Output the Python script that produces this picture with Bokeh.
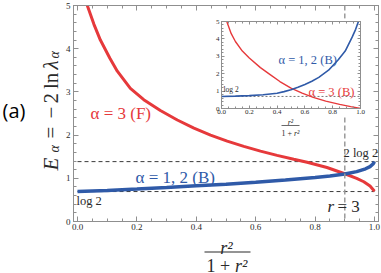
import numpy as np
from bokeh.plotting import figure
from bokeh.models import Range1d, LinearAxis, FixedTicker, Label, Span
from bokeh.embed import file_html
from bokeh.resources import INLINE

LOG2 = float(np.log(2))

# ---------------- main panel data ----------------
p_fermi3 = [0.033, 0.055, 0.077, 0.109, 0.134, 0.178, 0.223, 0.279, 0.336, 0.392,
            0.448, 0.504, 0.56, 0.616, 0.672, 0.728, 0.773, 0.84, 0.902, 0.94,
            0.964, 0.985, 1.0]
E_fermi3 = [5.0, 4.57, 4.2, 3.78, 3.48, 3.08, 2.82, 2.57, 2.35, 2.16,
            2.0, 1.86, 1.74, 1.63, 1.53, 1.44, 1.37, 1.25, 1.10, 1.00,
            0.92, 0.82, 0.70]
p_bos12 = [0.0, 0.1, 0.2, 0.3, 0.4, 0.5, 0.6, 0.7, 0.8, 0.85, 0.9, 0.94, 0.97,
           0.985, 0.995, 1.0]
E_bos12 = [0.693, 0.72, 0.75, 0.785, 0.825, 0.865, 0.91, 0.96, 1.02, 1.055, 1.10,
           1.155, 1.22, 1.27, 1.33, 1.386]
ref_levels = [LOG2, 2 * LOG2]          # log 2 and 2 log 2
ref_x0 = [0.0, 0.0]
ref_x1 = [1.0, 1.0]
r3_position = 0.9                        # r = 3  ->  r^2/(1+r^2) = 0.9

x_ticks = [0.0, 0.2, 0.4, 0.6, 0.8, 1.0]
x_tick_labels = ["0.0", "0.2", "0.4", "0.6", "0.8", "1.0"]
x_minor = [round(0.05 * i, 2) for i in range(21)]
y_ticks = [0, 1, 2, 3, 4, 5]
y_tick_labels = ["0", "1", "2", "3", "4", "5"]
y_minor = [round(0.2 * i, 1) for i in range(26)]

# ---------------- inset data ----------------
pi_bos12 = [0.0, 0.1, 0.2, 0.3, 0.4, 0.45, 0.5, 0.55, 0.6, 0.65, 0.7, 0.77, 0.84,
            0.89, 0.94, 0.965, 0.985]
Ei_bos12 = [0.693, 0.71, 0.74, 0.79, 0.88, 0.97, 1.08, 1.22, 1.38, 1.57, 1.79, 2.2,
            2.8, 3.3, 4.1, 4.55, 5.0]
pi_bos3 = [0.038, 0.07, 0.1, 0.15, 0.2, 0.28, 0.35, 0.42, 0.5, 0.58, 0.66, 0.75,
           0.85, 0.93, 1.0]
Ei_bos3 = [5.0, 4.3, 3.85, 3.3, 2.9, 2.35, 1.95, 1.55, 1.17, 0.88, 0.64, 0.42,
           0.24, 0.11, 0.0]
inset_ref = [LOG2]

RED = "#e6393b"
BLUE = "#2f5aa8"
FRAME = "#8f8f8f"
TXT = "#2a2a2a"
SERIF = "Liberation Serif"


def style_axis(ax, ticks, minor, labels, show, size, tin, tmin, standoff=3):
    ax.ticker = FixedTicker(ticks=ticks, minor_ticks=minor)
    ax.major_tick_in = tin
    ax.major_tick_out = 0
    ax.minor_tick_in = tmin
    ax.minor_tick_out = 0
    ax.axis_line_color = FRAME
    ax.major_tick_line_color = FRAME
    ax.minor_tick_line_color = FRAME
    ax.major_label_text_font = SERIF
    if show:
        ax.major_label_overrides = {t: l for t, l in zip(ticks, labels)}
        ax.major_label_text_color = TXT
        ax.major_label_text_font_size = f"{size}px"
        ax.major_label_standoff = standoff
    else:
        ax.major_label_text_color = None
        ax.major_label_text_font_size = "1px"
        ax.major_label_standoff = 0


# ================= main figure =================
p = figure(frame_width=305, frame_height=216, x_range=Range1d(-0.0135, 1.0135),
           y_range=Range1d(0, 5), output_backend="svg", toolbar_location=None,
           min_border_left=73, min_border_right=3, min_border_top=5,
           min_border_bottom=0)
p.styles = {"position": "absolute", "left": "0px", "top": "0px"}
p.xgrid.visible = False
p.ygrid.visible = False
p.outline_line_color = FRAME
p.background_fill_color = "white"
p.border_fill_color = "white"

style_axis(p.xaxis[0], x_ticks, x_minor, x_tick_labels, True, 9, 5, 3, 2)
style_axis(p.yaxis[0], y_ticks, y_minor, y_tick_labels, True, 9, 5, 3, 3)
top_ax = LinearAxis()
right_ax = LinearAxis()
style_axis(top_ax, x_ticks, x_minor, x_tick_labels, False, 9, 5, 3)
style_axis(right_ax, y_ticks, y_minor, y_tick_labels, False, 9, 5, 3)
p.add_layout(top_ax, "above")
p.add_layout(right_ax, "right")

p.segment(x0=ref_x0, y0=ref_levels, x1=ref_x1, y1=ref_levels,
          line_color="#3a3a3a", line_width=1, line_dash="4 3")
p.add_layout(Span(location=r3_position, dimension="height", line_color="#9a9a9a",
                  line_width=1.5, line_dash="5 3"))
p.line(p_fermi3, E_fermi3, line_color=RED, line_width=3)
p.line(p_bos12, E_bos12, line_color=BLUE, line_width=3.5)

# ================= inset figure =================
inset = figure(frame_width=139, frame_height=87, x_range=Range1d(0, 1),
               y_range=Range1d(0, 5), output_backend="svg", toolbar_location=None,
               min_border_left=14, min_border_right=6, min_border_top=3,
               min_border_bottom=0)
inset.styles = {"position": "absolute", "left": "207px", "top": "18px"}
inset.xgrid.visible = False
inset.ygrid.visible = False
inset.outline_line_color = FRAME
inset.background_fill_color = "white"
inset.border_fill_color = "white"
style_axis(inset.xaxis[0], x_ticks, x_minor, x_tick_labels, True, 7, 3, 2, 1)
style_axis(inset.yaxis[0], y_ticks, y_minor, y_tick_labels, True, 7, 3, 2, 2)
itop = LinearAxis()
iright = LinearAxis()
style_axis(itop, x_ticks, x_minor, x_tick_labels, False, 7, 3, 2)
style_axis(iright, y_ticks, y_minor, y_tick_labels, False, 7, 3, 2)
inset.add_layout(itop, "above")
inset.add_layout(iright, "right")

inset.segment(x0=[0.0], y0=inset_ref, x1=[1.0], y1=inset_ref,
              line_color="#555555", line_width=0.8, line_dash="2 2")
inset.line(pi_bos3, Ei_bos3, line_color=RED, line_width=1.4)
inset.line(pi_bos12, Ei_bos12, line_color=BLUE, line_width=1.6)

# ================= text overlay (page-pixel coordinates) =================
ov = figure(width=381, height=273, x_range=Range1d(0, 381), y_range=Range1d(273, 0),
            output_backend="svg", toolbar_location=None, min_border=0,
            x_axis_location=None, y_axis_location=None)
ov.styles = {"position": "absolute", "left": "0px", "top": "0px"}
ov.xgrid.visible = False
ov.ygrid.visible = False
ov.outline_line_color = None
ov.background_fill_alpha = 0
ov.border_fill_alpha = 0


def lab(px, py, text, size, color=TXT, style="normal", align="left",
        baseline="middle", angle=0.0, font=SERIF):
    ov.add_layout(Label(x=px, y=py, text=text, text_font_size=f"{size}px",
                        text_color=color, text_font_style=style, text_align=align,
                        text_baseline=baseline, angle=angle, text_font=font))


# panel tag
lab(2, 110, "(a)", 20, color="black", font="Open Sans")
# y-axis title  E_α = −2 ln λ_α  (rotated, reads bottom to top)
A = np.pi / 2
lab(50, 170, "E", 21, style="italic", baseline="alphabetic", angle=A)
lab(53.5, 152, "α", 14, style="italic", baseline="alphabetic", angle=A)
lab(50, 138, "=", 21, baseline="alphabetic", angle=A)
lab(50, 118, "−", 21, baseline="alphabetic", angle=A)
lab(50, 103, "2", 21, baseline="alphabetic", angle=A)
lab(50, 88.5, "ln", 21, baseline="alphabetic", angle=A)
lab(50, 69, "λ", 21, style="italic", baseline="alphabetic", angle=A)
lab(53.5, 58, "α", 14, style="italic", baseline="alphabetic", angle=A)
# x-axis title  r^2 / (1 + r^2)
lab(226, 247, "r²", 18, style="italic", align="center", baseline="alphabetic")
ov.segment(x0=[204], y0=[251.5], x1=[250], y1=[251.5], line_color=TXT, line_width=1.2)
lab(206, 265, "1 + ", 18, baseline="alphabetic")
lab(234.5, 265, "r²", 18, style="italic", baseline="alphabetic")
# main curve annotations
lab(90, 113, "α = 3 (F)", 17, color=RED)
lab(135, 177, "α = 1, 2 (B)", 17, color=BLUE)
lab(76, 200, "log 2", 12.5)
lab(343, 152, "2 log 2", 12.5)
lab(327, 206, "r", 17, style="italic")
lab(337, 206, "= 3", 17)
# inset annotations
lab(223, 89, "log 2", 7.5)
lab(278, 59, "α = 1, 2 (B)", 12.5, color=BLUE)
lab(308, 91, "α = 3 (B)", 12.5, color=RED)
lab(290, 122, "r²", 8, style="italic", align="center", baseline="alphabetic")
ov.segment(x0=[281], y0=[125], x1=[299], y1=[125], line_color=TXT, line_width=0.7)
lab(281, 133, "1 + ", 8, baseline="alphabetic")
lab(293.5, 133, "r²", 8, style="italic", baseline="alphabetic")

open("out.html", "w").write(file_html([p, inset, ov], INLINE))
